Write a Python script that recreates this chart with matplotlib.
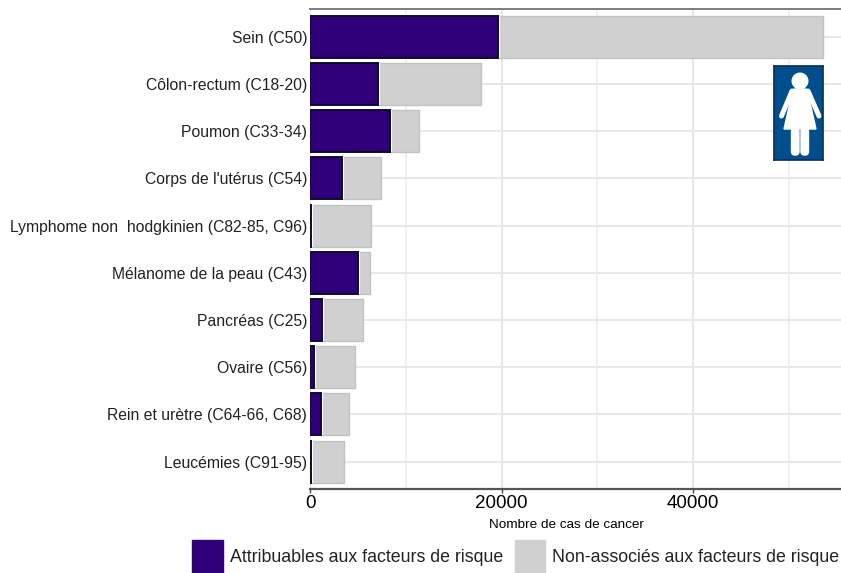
import numpy as np
import matplotlib
matplotlib.use("Agg")
import matplotlib.pyplot as plt
from matplotlib.patches import Patch, Circle, Polygon, FancyBboxPatch

plt.rcParams['font.family'] = ['Liberation Sans', 'DejaVu Sans']

# values
categories = ["Sein (C50)", "Côlon-rectum (C18-20)", "Poumon (C33-34)", "Corps de l'utérus (C54)",
              "Lymphome non  hodgkinien (C82-85, C96)", "Mélanome de la peau (C43)", "Pancréas (C25)",
              "Ovaire (C56)", "Rein et urètre (C64-66, C68)", "Leucémies (C91-95)"]
attributable = [19600, 7100, 8350, 3350, 60, 5000, 1250, 400, 1100, 60]
not_associated = [34000, 10800, 3050, 4100, 6340, 1300, 4300, 4300, 2950, 3490]
xticks_major = [0, 20000, 40000]
xticks_minor = [10000, 30000, 50000]

purple = "#2f0079"
grey = "#d0d0d0"

fig = plt.figure(figsize=(8.41, 5.73), dpi=100)
ax = fig.add_axes([310 / 841, 1 - 489 / 573, (841 - 310) / 841, (489 - 9) / 573])

y = np.arange(len(categories))
ax.barh(y, attributable, height=0.89, color=purple, edgecolor="#0e0b30", linewidth=1.4, zorder=3)
ax.barh(y, not_associated, left=attributable, height=0.89, color=grey, edgecolor="#c2c2c2",
        linewidth=1.0, zorder=2)
# white gap between the two parts of a bar
ax.barh(y, [0] * len(y), left=attributable, height=0.89, edgecolor="white", linewidth=3, zorder=2.5)

ax.set_yticks(y)
ax.set_yticklabels(categories, fontsize=11.3, color="#222222")
ax.set_ylim(len(y) - 0.42, -0.59)
ax.set_xlim(0, 55450)
ax.set_xticks(xticks_major)
ax.set_xticks(xticks_minor, minor=True)
ax.tick_params(axis="x", which="major", labelsize=13.5, length=3, width=1, color="#444444", pad=1.5)
ax.tick_params(axis="x", which="minor", length=0)
ax.tick_params(axis="y", length=0, pad=2)
ax.grid(True, which="major", axis="x", color="#e6e6e6", linewidth=1.4, zorder=0)
ax.grid(True, which="minor", axis="x", color="#ececec", linewidth=1.1, zorder=0)
ax.grid(True, which="major", axis="y", color="#e6e6e6", linewidth=1.3, zorder=0)
ax.set_axisbelow(True)
ax.set_xlabel("Nombre de cas de cancer", fontsize=9.7)
ax.xaxis.set_label_coords(0.483, -0.062)

for side in ["left", "right"]:
    ax.spines[side].set_visible(False)
ax.spines["top"].set_color("#666666")
ax.spines["top"].set_linewidth(1.2)
ax.spines["bottom"].set_color("#555555")
ax.spines["bottom"].set_linewidth(1.6)

# woman pictogram
icon = fig.add_axes([774 / 841, 1 - 160 / 573, 49 / 841, 94 / 573])
icon.set_xlim(0, 49)
icon.set_ylim(94, 0)
icon.set_xticks([])
icon.set_yticks([])
icon.set_facecolor("#004f8c")
for s in icon.spines.values():
    s.set_color("#0b2a55")
    s.set_linewidth(1.2)
icon.add_patch(Circle((26, 15), 7.8, color="white"))
icon.add_patch(Polygon([[20, 23], [32, 23], [35, 32], [42, 63], [10, 63], [17, 32]], color="white"))
icon.add_patch(FancyBboxPatch((17.5, 62), 7.5, 27, boxstyle="round,pad=0,rounding_size=3.5", color="white"))
icon.add_patch(FancyBboxPatch((27, 62), 7.5, 27, boxstyle="round,pad=0,rounding_size=3.5", color="white"))
icon.plot([18, 7.5], [25, 50], color="white", lw=3.6, solid_capstyle="round")
icon.plot([34, 45], [25, 50], color="white", lw=3.6, solid_capstyle="round")

handles = [Patch(facecolor=purple, edgecolor=purple, label="Attribuables aux facteurs de risque"),
           Patch(facecolor=grey, edgecolor=grey, label="Non-associés aux facteurs de risque")]
fig.legend(handles=handles, loc="lower right", bbox_to_anchor=(0.998, -0.002), ncol=2, frameon=False,
           fontsize=12.8, handlelength=1.72, handleheight=2.6, handletextpad=0.38, columnspacing=0.68,
           borderpad=0, borderaxespad=0, labelcolor="#222222")

fig.savefig("out.png", dpi=100)
